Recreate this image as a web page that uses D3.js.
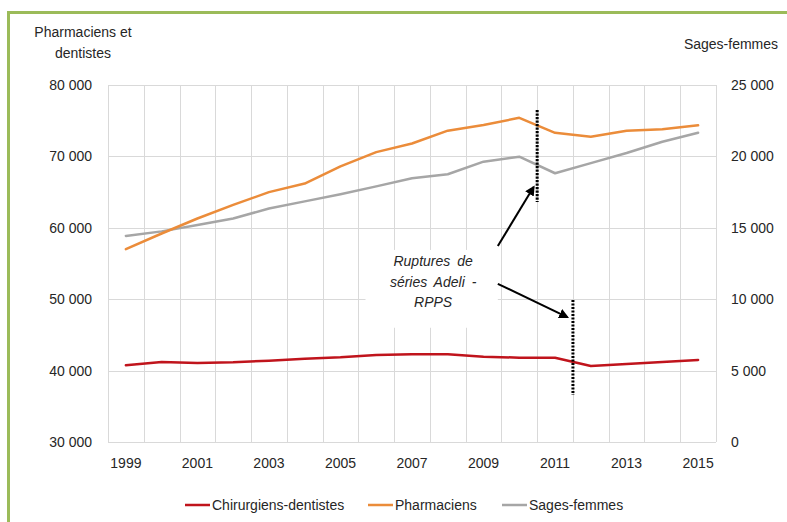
<!DOCTYPE html>
<html>
<head>
<meta charset="utf-8">
<script src="https://cdn.jsdelivr.net/npm/d3@7"></script>
<style>
  html, body { margin: 0; padding: 0; background: #fff; }
  svg { display: block; font-family: "Liberation Sans", Arial, sans-serif; }
</style>
</head>
<body>
<svg id="chart" width="787" height="522"></svg>
<script>
const years = ["1999","2000","2001","2002","2003","2004","2005","2006","2007","2008","2009","2010","2011","2012","2013","2014","2015"];
const tickYears = ["1999","2001","2003","2005","2007","2009","2011","2013","2015"];
const dentistes = [40740, 41200, 41060, 41160, 41390, 41670, 41860, 42180, 42280, 42280, 41950, 41810, 41810, 40640, 40920, 41200, 41480];
const pharmaciens = [57000, 59200, 61300, 63200, 65000, 66200, 68600, 70600, 71800, 73600, 74400, 75400, 73300, 72750, 73600, 73800, 74350];
const sagesFemmes = [14430, 14750, 15200, 15650, 16350, 16850, 17350, 17900, 18470, 18750, 19630, 19980, 18820, 19530, 20240, 21030, 21660];
const leftTicks = [30000, 40000, 50000, 60000, 70000, 80000];
const rightTicks = [0, 5000, 10000, 15000, 20000, 25000];
const seriesNames = ["Chirurgiens-dentistes", "Pharmaciens", "Sages-femmes"];
const seriesColors = ["#C0141C", "#EB8C3A", "#A6A6A6"];
const ruptureYears = ["2011", "2012"];
const annotationLines = ["Ruptures de", "séries Adeli -", "RPPS"];

const svg = d3.select("#chart");
const m = {left: 108, right: 716, top: 85, bottom: 442};

const x = d3.scaleBand().domain(years).range([m.left, m.right]).padding(0);
const xi = d3.scaleLinear().domain([0, years.length]).range([m.left, m.right]); // fractional category index
const yL = d3.scaleLinear().domain([30000, 80000]).range([m.bottom, m.top]);
const yR = d3.scaleLinear().domain([0, 25000]).range([m.bottom, m.top]);
const fmt = v => d3.format(",")(v).replace(/,/g, " ");
const textColor = "#262626";

// green frame (left + top)
svg.append("rect").attr("x", 8.5).attr("y", 12.5).attr("width", 820).attr("height", 560)
  .attr("fill", "none").attr("stroke", "#9BBB59").attr("stroke-width", 3);

// gridlines
const grid = svg.append("g").attr("stroke", "#D9D9D9").attr("stroke-width", 1);
leftTicks.forEach(t => grid.append("line").attr("x1", m.left).attr("x2", m.right)
  .attr("y1", Math.round(yL(t)) + 0.5).attr("y2", Math.round(yL(t)) + 0.5));
years.forEach(yv => grid.append("line").attr("x1", Math.round(x(yv)) + 0.5).attr("x2", Math.round(x(yv)) + 0.5)
  .attr("y1", m.top).attr("y2", m.bottom));
grid.append("line").attr("x1", m.right + 0.5).attr("x2", m.right + 0.5).attr("y1", m.top).attr("y2", m.bottom);

// axes labels
const axL = svg.append("g").attr("transform", `translate(${m.left},0)`)
  .call(d3.axisLeft(yL).tickValues(leftTicks).tickFormat(fmt).tickSize(0).tickPadding(16));
const axR = svg.append("g").attr("transform", `translate(${m.right},0)`)
  .call(d3.axisRight(yR).tickValues(rightTicks).tickFormat(fmt).tickSize(0).tickPadding(15));
const axB = svg.append("g").attr("transform", `translate(0,${m.bottom})`)
  .call(d3.axisBottom(x).tickValues(tickYears).tickSize(0).tickPadding(16));
[axL, axR, axB].forEach(a => {
  a.select(".domain").remove();
  a.selectAll("text").attr("font-size", 14).attr("fill", textColor).attr("font-family", "Liberation Sans, Arial, sans-serif");
});

// axis titles
svg.append("text").attr("x", 83).attr("y", 37).attr("text-anchor", "middle")
  .attr("font-size", 14).attr("fill", textColor).text("Pharmaciens  et");
svg.append("text").attr("x", 83).attr("y", 58).attr("text-anchor", "middle")
  .attr("font-size", 14).attr("fill", textColor).text("dentistes");
svg.append("text").attr("x", 731).attr("y", 49).attr("text-anchor", "middle")
  .attr("font-size", 14).attr("fill", textColor).text("Sages-femmes");

// lines
const cx = (d, i) => x(years[i]) + x.bandwidth() / 2;
const lineL = d3.line().x(cx).y(d => yL(d));
const lineR = d3.line().x(cx).y(d => yR(d));
const drawSeries = (data, gen, color) => svg.append("path").datum(data)
  .attr("d", gen).attr("fill", "none").attr("stroke", color).attr("stroke-width", 2.5)
  .attr("stroke-linejoin", "round").attr("stroke-linecap", "round");
drawSeries(sagesFemmes, lineR, seriesColors[2]);
drawSeries(pharmaciens, lineL, seriesColors[1]);
drawSeries(dentistes, lineL, seriesColors[0]);

// rupture dotted lines
const ruptureRanges = [[76500, 63600], [49900, 36600]];
ruptureYears.forEach((yv, i) => {
  svg.append("line").attr("x1", x(yv)).attr("x2", x(yv))
    .attr("y1", yL(ruptureRanges[i][0])).attr("y2", yL(ruptureRanges[i][1]))
    .attr("stroke", "#000").attr("stroke-width", 3).attr("stroke-dasharray", "2.2,1.3");
});

// annotation box + text
svg.append("rect").attr("x", xi(7.2)).attr("y", yL(56900)).attr("width", xi(10.9) - xi(7.2))
  .attr("height", yL(46000) - yL(56900)).attr("fill", "#fff");
annotationLines.forEach((t, i) => {
  svg.append("text").attr("x", xi(9.09)).attr("y", yL(54600) + i * 20.5)
    .attr("text-anchor", "middle").attr("font-size", 14).attr("font-style", "italic")
    .attr("fill", textColor).attr("word-spacing", 3).text(t);
});

// arrows
const defs = svg.append("defs");
defs.append("marker").attr("id", "ah").attr("viewBox", "0 0 10 10").attr("refX", 8).attr("refY", 5)
  .attr("markerWidth", 5).attr("markerHeight", 5).attr("orient", "auto")
  .append("path").attr("d", "M0,0 L10,5 L0,10 z").attr("fill", "#000");
const arrows = [
  {x1: 10.9, y1: 57450, x2: 11.9, y2: 65700},
  {x1: 10.9, y1: 52150, x2: 12.84, y2: 47500}
];
arrows.forEach(a => {
  svg.append("line").attr("x1", xi(a.x1)).attr("y1", yL(a.y1)).attr("x2", xi(a.x2)).attr("y2", yL(a.y2))
    .attr("stroke", "#000").attr("stroke-width", 2).attr("marker-end", "url(#ah)");
});

// legend
const legendX = [185, 368, 502];
seriesNames.forEach((n, i) => {
  const g = svg.append("g").attr("transform", `translate(${legendX[i]},505)`);
  g.append("line").attr("x1", 0).attr("x2", 25).attr("y1", 0).attr("y2", 0)
    .attr("stroke", seriesColors[i]).attr("stroke-width", 2.5);
  g.append("text").attr("x", 27).attr("y", 5).attr("font-size", 14).attr("fill", textColor).text(n);
});
</script>
</body>
</html>
